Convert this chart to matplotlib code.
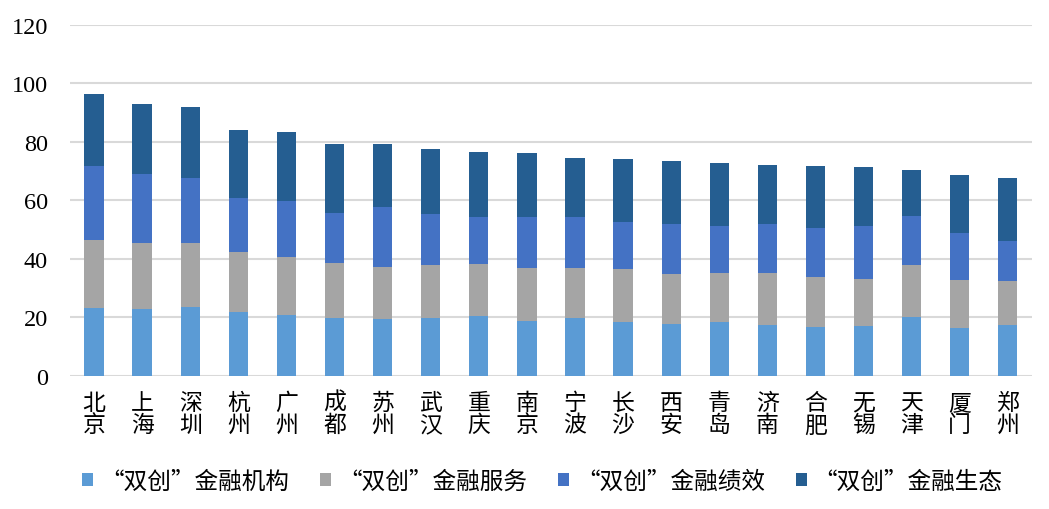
import matplotlib
matplotlib.use("Agg")
import matplotlib.pyplot as plt
import numpy as np

plt.rcParams['font.family'] = ['Liberation Serif', 'Noto Sans CJK SC', 'DejaVu Sans']

cities = ["北京", "上海", "深圳", "杭州", "广州", "成都", "苏州", "武汉", "重庆", "南京",
          "宁波", "长沙", "西安", "青岛", "济南", "合肥", "无锡", "天津", "厦门", "郑州"]
institutions = [23.2, 22.8, 23.5, 21.8, 20.8, 19.7, 19.4, 19.7, 20.4, 18.7,
                19.7, 18.4, 17.7, 18.4, 17.4, 16.7, 17.0, 20.1, 16.3, 17.4]
services = [23.4, 22.8, 22.1, 20.4, 19.7, 18.8, 17.8, 18.1, 17.7, 18.1,
            17.1, 18.0, 17.0, 16.7, 17.7, 17.0, 16.0, 17.7, 16.4, 14.9]
performance = [25.2, 23.5, 22.2, 18.7, 19.4, 17.3, 20.7, 17.4, 16.4, 17.7,
               17.7, 16.4, 17.1, 16.3, 17.0, 17.0, 18.1, 17.0, 16.0, 14.0]
ecology = [24.5, 23.9, 24.1, 23.2, 23.5, 23.5, 21.3, 22.4, 22.1, 21.8,
           20.1, 21.4, 21.7, 21.5, 20.1, 21.1, 20.4, 15.7, 20.1, 21.5]
series_names = ["“双创”金融机构", "“双创”金融服务", "“双创”金融绩效", "“双创”金融生态"]
colors = ["#5B9BD5", "#A5A5A5", "#4472C4", "#255E91"]
yticks = [0, 20, 40, 60, 80, 100, 120]

fig = plt.figure(figsize=(10.49, 5.10), dpi=100)
ax = fig.add_axes([0.0667, 0.261, 0.917, 0.688])

x = np.arange(len(cities))
bottom = np.zeros(len(cities))
for vals, name, c in zip([institutions, services, performance, ecology], series_names, colors):
    vals = np.array(vals)
    ax.bar(x, vals, bottom=bottom, width=0.4, color=c, label=name, zorder=3)
    bottom += vals

ax.set_xlim(-0.5, len(cities) - 0.5)
ax.set_ylim(0, 120)
ax.set_yticks(yticks)
ax.set_yticklabels([str(v) for v in yticks], fontsize=17.5)
ax.grid(axis='y', color='#D9D9D9', linewidth=1.5, zorder=0)
for s in ax.spines.values():
    s.set_visible(False)
ax.tick_params(axis='both', length=0)
ax.tick_params(axis='y', pad=16)
ax.set_xticks(x)
ax.set_xticklabels(["\n".join(c) for c in cities], fontsize=16.5, linespacing=0.95,
                   family=['Noto Sans CJK SC'])
ax.tick_params(axis='x', pad=11)

fig.legend(loc='center', bbox_to_anchor=(0.517, 0.055), ncol=4, frameon=False,
           prop={'family': ['Noto Sans CJK SC'], 'size': 17},
           handlelength=0.47, handleheight=0.47, handletextpad=0.3,
           columnspacing=1.3)

fig.savefig("out.png", dpi=100)
